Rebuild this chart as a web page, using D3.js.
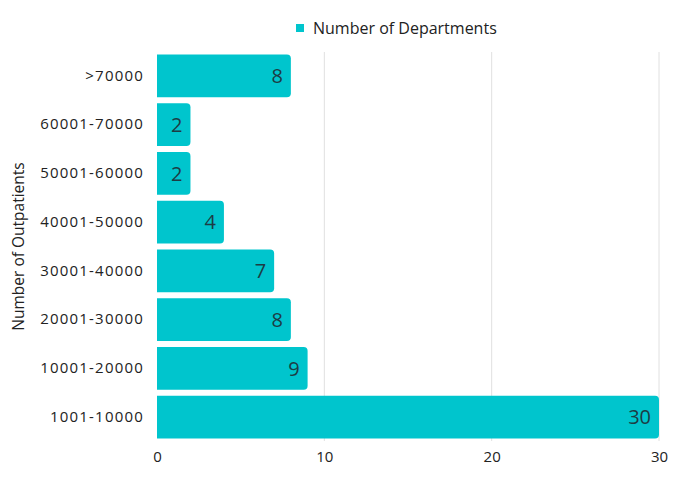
<!DOCTYPE html>
<html>
<head>
<meta charset="utf-8">
<script src="https://cdn.jsdelivr.net/npm/d3@7"></script>
<style>
  body { margin: 0; background: #fff; }
  svg { display: block; font-family: "Open Sans", "Noto Sans", sans-serif; }
</style>
</head>
<body>
<svg id="chart" width="675" height="485"></svg>
<script>
const categories = [">70000", "60001-70000", "50001-60000", "40001-50000", "30001-40000", "20001-30000", "10001-20000", "1001-10000"];
const values = [8, 2, 2, 4, 7, 8, 9, 30];
const xTicks = [0, 10, 20, 30];
const seriesName = "Number of Departments";
const yTitle = "Number of Outpatients";
const color = "#00C5CD";

const svg = d3.select("#chart");
const margin = {left: 157, right: 16, top: 52, bottom: 44};
const W = 675, H = 485;

const x = d3.scaleLinear().domain([0, 30]).range([margin.left, W - margin.right]);
const y = d3.scaleBand().domain(categories).range([margin.top, H - margin.bottom]).paddingInner(0.12).paddingOuter(0.05);

// gridlines
svg.append("g").selectAll("line").data(xTicks.slice(1)).join("line")
  .attr("x1", d => x(d)).attr("x2", d => x(d))
  .attr("y1", margin.top).attr("y2", H - margin.bottom)
  .attr("stroke", "#e0e0e0").attr("stroke-width", 1);

// bars with right rounded corners
const r = 4;
svg.append("g").selectAll("path").data(categories).join("path")
  .attr("d", (c, i) => {
    const x0 = x(0), x1 = x(values[i]), y0 = y(c), h = y.bandwidth();
    return `M${x0},${y0} H${x1 - r} Q${x1},${y0} ${x1},${y0 + r} V${y0 + h - r} Q${x1},${y0 + h} ${x1 - r},${y0 + h} H${x0} Z`;
  })
  .attr("fill", color);

// value labels
svg.append("g").selectAll("text").data(categories).join("text")
  .attr("x", (c, i) => x(values[i]) - 8)
  .attr("y", c => y(c) + y.bandwidth() / 2)
  .attr("dy", "0.36em")
  .attr("text-anchor", "end")
  .attr("font-size", 20)
  .attr("fill", "#1d3c44")
  .text((c, i) => values[i]);

// y axis labels
const yAxis = d3.axisLeft(y).tickSize(0).tickPadding(13);
const gy = svg.append("g").attr("transform", `translate(${margin.left},0)`).call(yAxis);
gy.select(".domain").remove();
gy.selectAll("text").attr("font-size", 15).attr("letter-spacing", 1.2).attr("fill", "#222").attr("font-family", "'Open Sans', sans-serif");

// x axis
const xAxis = d3.axisBottom(x).tickValues(xTicks).tickSize(0).tickPadding(10);
const gx = svg.append("g").attr("transform", `translate(0,${H - margin.bottom})`).call(xAxis);
gx.select(".domain").remove();
gx.selectAll("text").attr("font-size", 15).attr("fill", "#222").attr("font-family", "'Open Sans', sans-serif");

// y title
svg.append("text")
  .attr("transform", `translate(24,${(margin.top + H - margin.bottom) / 2}) rotate(-90)`)
  .attr("text-anchor", "middle")
  .attr("font-size", 15.5)
  .attr("fill", "#222")
  .text(yTitle);

// legend
svg.append("rect").attr("x", 296).attr("y", 24).attr("width", 8).attr("height", 8).attr("fill", color);
svg.append("text").attr("x", 313).attr("y", 28).attr("dy", "0.36em")
  .attr("font-size", 16).attr("fill", "#222").text(seriesName);
</script>
</body>
</html>
